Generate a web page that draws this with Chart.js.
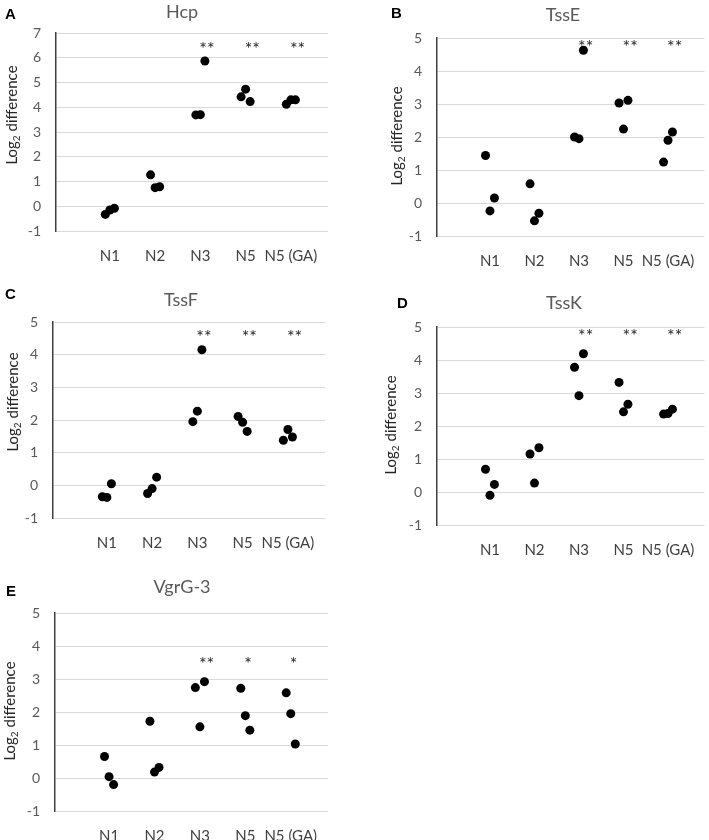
<!DOCTYPE html>
<html>
<head>
<meta charset="utf-8">
<script src="https://cdn.jsdelivr.net/npm/chart.js@4.4.1/dist/chart.umd.min.js"></script>
<style>
    body { margin: 0; background: #fff; }
    #wrap { position: relative; width: 709px; height: 840px; overflow: hidden; }
    .panel { position: absolute; }
    .panel canvas { display: block; }
</style>
</head>
<body>
<div id="wrap">
    <div class="panel" style="left:0px;top:0px"><canvas id="chartA" width="340" height="270"></canvas></div>
    <div class="panel" style="left:355px;top:0px"><canvas id="chartB" width="354" height="270"></canvas></div>
    <div class="panel" style="left:0px;top:280px"><canvas id="chartC" width="340" height="280"></canvas></div>
    <div class="panel" style="left:355px;top:280px"><canvas id="chartD" width="354" height="280"></canvas></div>
    <div class="panel" style="left:0px;top:560px"><canvas id="chartE" width="340" height="280"></canvas></div>
</div>
<script>
// Categories on the x axis (placed at 1..5)
const categories = ['N1', 'N2', 'N3', 'N5', 'N5 (GA)'];
// Horizontal spread of the three replicates inside a category
const replicateOffsets = [-0.1, 0, 0.1];

// Log2 difference, three replicates per category
const hcpValues = [[-0.33, -0.15, -0.08], [1.27, 0.75, 0.79], [3.69, 3.70, 5.87], [4.42, 4.73, 4.23], [4.12, 4.30, 4.30]];
const tssEValues = [[1.44, -0.24, 0.15], [0.58, -0.54, -0.31], [2.00, 1.95, 4.63], [3.03, 2.24, 3.11], [1.24, 1.90, 2.15]];
const tssFValues = [[-0.35, -0.37, 0.05], [-0.25, -0.10, 0.25], [1.95, 2.27, 4.15], [2.11, 1.93, 1.65], [1.38, 1.71, 1.48]];
const tssKValues = [[0.69, -0.10, 0.23], [1.15, 0.27, 1.34], [3.78, 2.92, 4.19], [3.32, 2.43, 2.66], [2.36, 2.38, 2.51]];
const vgrG3Values = [[0.65, 0.04, -0.20], [1.72, 0.18, 0.32], [2.74, 1.55, 2.92], [2.72, 1.89, 1.45], [2.58, 1.95, 1.03]];

// Significance marks per category
const sigHcp = ['', '', '**', '**', '**'];
const sigTssE = ['', '', '**', '**', '**'];
const sigTssF = ['', '', '**', '**', '**'];
const sigTssK = ['', '', '**', '**', '**'];
const sigVgrG3 = ['', '', '**', '*', '*'];

// y axis ranges
const yRangeHcp = [-1, 7];
const yRangeOther = [-1, 5];

const FONT = 'Lato, "Open Sans", sans-serif';
Chart.defaults.font.family = FONT;

function buildPoints(values) {
    const pts = [];
    values.forEach((reps, i) => {
        reps.forEach((v, j) => {
            pts.push({ x: i + 1 + replicateOffsets[j], y: v });
        });
    });
    return pts;
}

// Panel title, letter, axis title and asterisks
const panelText = {
    id: 'panelText',
    afterDatasetsDraw(chart) {
        const p = chart.options.plugins.panelText;
        const ctx = chart.ctx;
        const xs = chart.scales.x;
        const ys = chart.scales.y;
        ctx.save();

        // gene title
        ctx.fillStyle = '#595959';
        ctx.font = '18px ' + FONT;
        ctx.textAlign = 'center';
        ctx.textBaseline = 'middle';
        ctx.fillText(p.title, p.titlePos[0], p.titlePos[1]);

        // panel letter
        ctx.fillStyle = '#000';
        ctx.font = 'bold 15px "Liberation Sans", Arial, sans-serif';
        ctx.textAlign = 'left';
        ctx.fillText(p.letter, p.letterPos[0], p.letterPos[1]);

        // y axis title "Log2 difference" with subscript 2
        ctx.save();
        ctx.translate(p.axisTitlePos[0], p.axisTitlePos[1]);
        ctx.rotate(-Math.PI / 2);
        ctx.fillStyle = '#262626';
        const mainFont = '15px ' + FONT;
        const subFont = '10px ' + FONT;
        ctx.font = mainFont;
        const w1 = ctx.measureText('Log').width;
        const w3 = ctx.measureText(' difference').width;
        ctx.font = subFont;
        const w2 = ctx.measureText('2').width;
        let x0 = -(w1 + w2 + w3) / 2;
        ctx.textAlign = 'left';
        ctx.textBaseline = 'alphabetic';
        ctx.font = mainFont;
        ctx.fillText('Log', x0, 5);
        ctx.font = subFont;
        ctx.fillText('2', x0 + w1, 8);
        ctx.font = mainFont;
        ctx.fillText(' difference', x0 + w1 + w2, 5);
        ctx.restore();

        // significance asterisks
        ctx.fillStyle = '#262626';
        ctx.font = '18px ' + FONT;
        ctx.textAlign = 'left';
        ctx.textBaseline = 'alphabetic';
        p.sig.forEach((s, i) => {
            if (!s) return;
            const x = xs.getPixelForValue(i + 1) - 1;
            const y = ys.getPixelForValue(p.sigLevel) + 11;
            ctx.fillText(s, x, y);
        });
        ctx.restore();
    }
};

function makePanel(id, cfg) {
    const canvas = document.getElementById(id);
    const W = canvas.width;
    const H = canvas.height;
    return new Chart(canvas, {
        type: 'scatter',
        data: {
            datasets: [{
                data: buildPoints(cfg.values),
                backgroundColor: '#000',
                borderColor: '#000',
                borderWidth: 0,
                pointRadius: 4.5,
                pointHoverRadius: 4.5
            }]
        },
        options: {
            responsive: false,
            animation: false,
            layout: {
                padding: { top: cfg.plot.top, right: W - cfg.plot.right, bottom: 0, left: 0 }
            },
            plugins: {
                legend: { display: false },
                tooltip: { enabled: false },
                panelText: {
                    title: cfg.title,
                    letter: cfg.letter,
                    titlePos: cfg.titlePos,
                    letterPos: cfg.letterPos,
                    axisTitlePos: cfg.axisTitlePos,
                    sig: cfg.sig,
                    sigLevel: cfg.sigLevel
                }
            },
            scales: {
                x: {
                    type: 'linear',
                    min: -0.19,
                    max: 5.82,
                    grid: { display: false },
                    border: { display: false },
                    afterBuildTicks: (scale) => {
                        scale.ticks = categories.map((c, i) => ({ value: i + 1 }));
                    },
                    afterFit: (scale) => {
                        scale.height = H - cfg.plot.bottom;
                    },
                    ticks: {
                        autoSkip: false,
                        maxRotation: 0,
                        padding: 8,
                        color: '#404040',
                        font: { size: 15 },
                        callback: (v) => categories[Math.round(v) - 1] || ''
                    }
                },
                y: {
                    min: cfg.yRange[0],
                    max: cfg.yRange[1],
                    afterFit: (scale) => {
                        scale.width = cfg.plot.left;
                    },
                    grid: { color: '#d9d9d9', lineWidth: 1, drawTicks: false },
                    border: { color: '#404040', width: 1.5 },
                    ticks: {
                        stepSize: 1,
                        padding: 15,
                        color: '#595959',
                        font: { size: 14 }
                    }
                }
            }
        },
        plugins: [panelText]
    });
}

makePanel('chartA', {
    values: hcpValues, sig: sigHcp, sigLevel: 6.56, yRange: yRangeHcp,
    title: 'Hcp', letter: 'A',
    plot: { left: 56, top: 33, right: 328, bottom: 231 },
    titlePos: [182, 12], letterPos: [5, 15], axisTitlePos: [12, 115]
});
makePanel('chartB', {
    values: tssEValues, sig: sigTssE, sigLevel: 4.88, yRange: yRangeOther,
    title: 'TssE', letter: 'B',
    plot: { left: 82, top: 38, right: 354, bottom: 236 },
    titlePos: [208, 15], letterPos: [36, 14], axisTitlePos: [42, 136]
});
makePanel('chartC', {
    values: tssFValues, sig: sigTssF, sigLevel: 4.68, yRange: yRangeOther,
    title: 'TssF', letter: 'C',
    plot: { left: 53, top: 42, right: 325, bottom: 238 },
    titlePos: [181, 20], letterPos: [5, 15], axisTitlePos: [13, 122]
});
makePanel('chartD', {
    values: tssKValues, sig: sigTssK, sigLevel: 4.88, yRange: yRangeOther,
    title: 'TssK', letter: 'D',
    plot: { left: 82, top: 47, right: 354, bottom: 245 },
    titlePos: [209, 23], letterPos: [42, 24], axisTitlePos: [36, 145]
});
makePanel('chartE', {
    values: vgrG3Values, sig: sigVgrG3, sigLevel: 3.6, yRange: yRangeOther,
    title: 'VgrG-3', letter: 'E',
    plot: { left: 55, top: 53, right: 328, bottom: 251 },
    titlePos: [182, 27], letterPos: [6, 32], axisTitlePos: [10, 151]
});
</script>
</body>
</html>
